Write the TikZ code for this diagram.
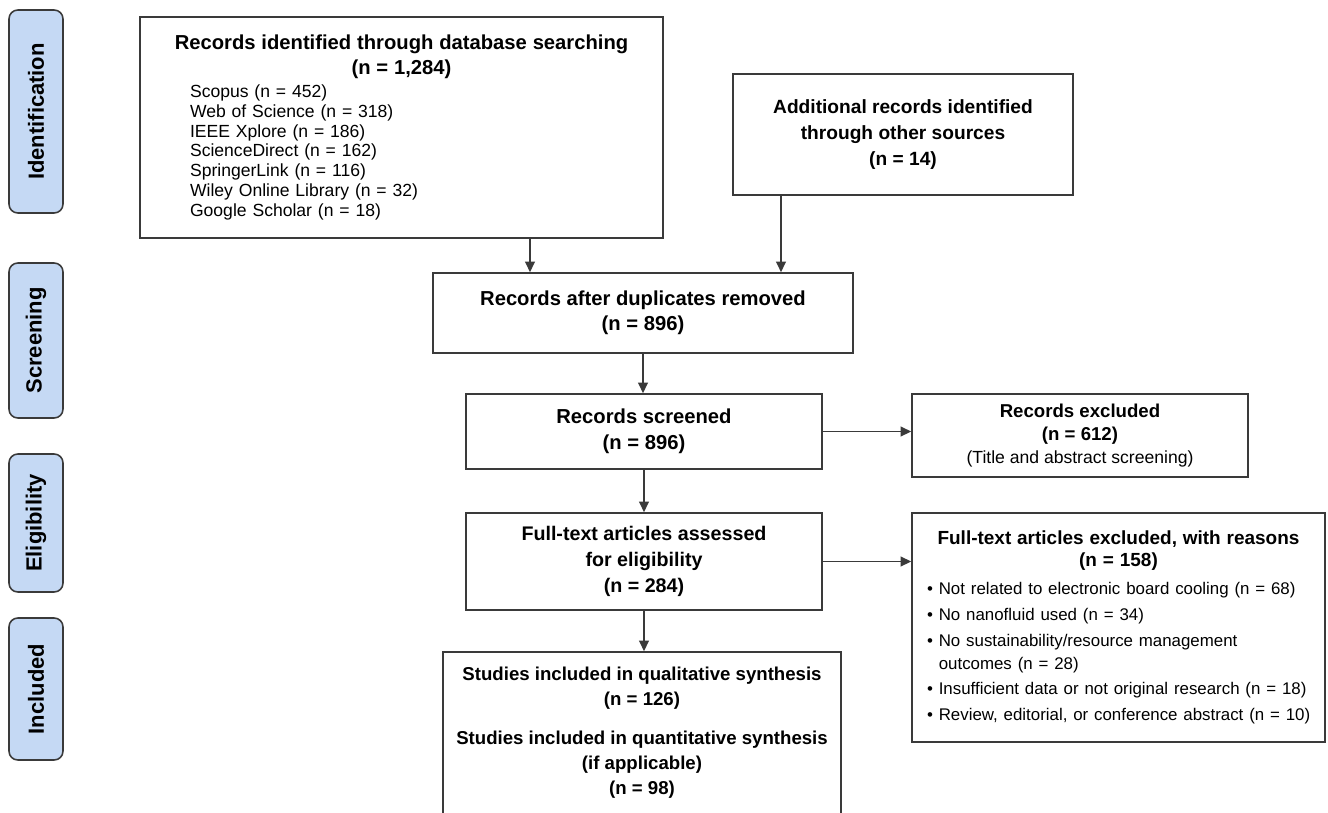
\documentclass[tikz,border=0pt]{standalone}
\usepackage{fontspec}
\setmainfont{Liberation Sans}
\usepackage{tikz}
\usetikzlibrary{arrows.meta,positioning,calc}

\definecolor{linegray}{HTML}{3A3A3A}
\definecolor{phaseblue}{HTML}{C5D9F4}

\newcommand{\boxhead}{\fontsize{11.5}{14.5}\selectfont\bfseries}
\newcommand{\boxbody}{\fontsize{10}{11.3}\selectfont\mdseries}
\newcommand{\phasefont}{\fontsize{12.5}{15}\selectfont\bfseries}

\begin{document}
\begin{tikzpicture}[
x=0.02cm, y=-0.02cm,
>={Triangle[length=6pt,width=5.5pt]}, line width=0.9pt,
flow-box/.style = {draw=linegray, fill=white, align=center, inner sep=0pt, font=\boxhead},
wide-box/.style = {draw=linegray, fill=white, inner sep=0pt},
phase-node/.style = {draw=linegray, fill=phaseblue, rounded corners=5pt, rotate=90, inner sep=0pt, minimum height=1.08cm, font=\phasefont},
flow-arrow/.style = {->, draw=linegray}
]

\useasboundingbox (0,0) rectangle (1328,812);

% phases
\node [phase-node, minimum width=4.06cm] (ph-ident) at (36,111.5) {Identification};
\node [phase-node, minimum width=3.10cm] (ph-screen) at (36,340.5) {Screening};
\node [phase-node, minimum width=2.76cm] (ph-elig) at (36,523) {Eligibility};
\node [phase-node, minimum width=2.84cm] (ph-incl) at (36,689) {Included};

% boxes
\node [wide-box, text width=10.46cm, minimum height=4.42cm] (db) at (401.5,127.5) {%
  \noindent{\centering\boxhead Records identified through database searching\\(n = 1,284)\par}
  \vspace{1.5pt}
  {\leftskip=1cm\boxbody\noindent Scopus (n = 452)\\
  Web of Science (n = 318)\\
  IEEE Xplore (n = 186)\\
  ScienceDirect (n = 162)\\
  SpringerLink (n = 116)\\
  Wiley Online Library (n = 32)\\
  Google Scholar (n = 18)\par}};
\node [flow-box, minimum width=6.8cm, minimum height=2.42cm,
  font=\fontsize{10.9}{15}\selectfont\bfseries] (other) at (903,134.5)
  {Additional records identified\\through other sources\\(n = 14)};
\node [flow-box, minimum width=8.4cm, minimum height=1.6cm] (dup) at (643,313)
  {Records after duplicates removed\\(n = 896)};
\node [flow-box, minimum width=7.12cm, minimum height=1.5cm] (screened) at (644,431.5)
  {Records screened\\(n = 896)};
\node [flow-box, minimum width=6.72cm, minimum height=1.66cm,
  font=\fontsize{10.6}{13.3}\selectfont\bfseries] (excl1) at (1080,435.5)
  {Records excluded\\(n = 612)\\{\boxbody (Title and abstract screening)}};
\node [flow-box, minimum width=7.12cm, minimum height=1.94cm,
  font=\fontsize{11.2}{15}\selectfont\bfseries] (fulltext) at (644,561.5)
  {Full-text articles assessed\\for eligibility\\(n = 284)};
\node [wide-box, text width=8.26cm, minimum height=4.58cm] (excl2) at (1118.5,627.5) {%
  \noindent{\centering\bfseries\fontsize{10.8}{12.5}\selectfont Full-text articles excluded, with reasons\\(n = 158)\par}
  \vspace{2.9pt}
  {\leftskip=0.3cm\fontsize{9.6}{13}\selectfont\noindent
  \textbullet\ Not related to electronic board cooling (n = 68)\\[1.7pt]
  \textbullet\ No nanofluid used (n = 34)\\[1.7pt]
  \textbullet\ No sustainability/resource management\\
  \phantom{\textbullet\ }outcomes (n = 28)\\[1.7pt]
  \textbullet\ Insufficient data or not original research (n = 18)\\[1.7pt]
  \textbullet\ Review, editorial, or conference abstract (n = 10)\par}};
\node [flow-box, minimum width=7.96cm, minimum height=3.24cm,
  font=\fontsize{10.6}{14.2}\selectfont\bfseries] (final) at (642,733)
  {Studies included in qualitative synthesis\\(n = 126)\\[8pt]
   Studies included in quantitative synthesis\\(if applicable)\\(n = 98)};

% arrows
\coordinate (db-out) at (530,0);
\coordinate (other-out) at (781,0);
\draw [flow-arrow] (db.south -| db-out) -- (dup.north -| db-out);
\draw [flow-arrow] (other.south -| other-out) -- (dup.north -| other-out);
\draw [flow-arrow] (dup.south) -- (dup.south |- screened.north);
\draw [flow-arrow] (screened.east) -- (screened.east -| excl1.west);
\draw [flow-arrow] (screened.south) -- (fulltext.north);
\draw [flow-arrow] (fulltext.east) -- (fulltext.east -| excl2.west);
\draw [flow-arrow] (fulltext.south) -- (fulltext.south |- final.north);

\end{tikzpicture}
\end{document}
